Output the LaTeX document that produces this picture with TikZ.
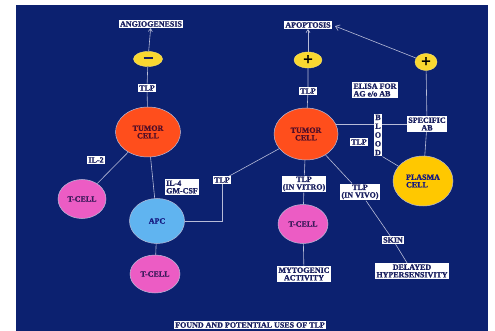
\documentclass[tikz,border=0pt]{standalone}
\usepackage{fontspec}
\setmainfont{Liberation Serif}[BoldFeatures={FakeBold=1.2}]
\usetikzlibrary{shapes.geometric,arrows.meta,backgrounds}
\definecolor{navy}{RGB}{12,33,112}
\definecolor{lbltext}{RGB}{26,32,96}
\definecolor{tumorred}{RGB}{255,78,28}
\definecolor{tpink}{RGB}{236,92,196}
\definecolor{apcblue}{RGB}{96,180,240}
\definecolor{plasmay}{RGB}{255,200,0}
\definecolor{signy}{RGB}{250,216,48}
\definecolor{wire}{RGB}{184,188,216}
\newcommand\lblfont{\fontsize{8}{7.6}\selectfont\bfseries}
\begin{document}
\begin{tikzpicture}[x=1pt,y=-1pt,
  lbl/.style={fill=white,text=lbltext,font=\lblfont,inner sep=1.2pt,align=center},
  cell/.style={ellipse,draw=wire,line width=0.5pt,inner sep=0pt,font=\lblfont,align=center},
  sign/.style={ellipse,fill=signy,draw=signy!70!white,inner sep=0pt,text=black},
  link/.style={draw=wire,line width=0.6pt}]
\useasboundingbox (0,0) rectangle (495,331);
\node[lbl] (angio) at (151,24) {ANGIOGENESIS};
\node[sign,minimum width=29pt,minimum height=15pt] (minus) at (148,59) {\color{lbltext}\rule[2pt]{9pt}{2pt}};
\node[lbl] (tlpA) at (147,88) {TLP};
\node[cell,fill=tumorred,text=lbltext!60!red!70!black,minimum width=65pt,minimum height=50pt] (tumorA) at (148,132) {TUMOR\\CELL};
\node[lbl] (il2) at (96,160) {IL-2};
\node[cell,fill=tpink,text=lbltext!80!purple,minimum width=48pt,minimum height=39pt] (tcellA) at (82,199) {T-CELL};
\node[lbl,align=left] (il4) at (182,187) {IL-4\\GM-CSF};
\node[cell,fill=apcblue,text=lbltext!80!blue,minimum width=55pt,minimum height=45pt] (apc) at (157,221) {APC};
\node[cell,fill=tpink,text=lbltext!80!purple,minimum width=50pt,minimum height=38pt] (tcellB) at (155,274) {T-CELL};
\node[lbl] (tlpB) at (222,180) {TLP};
\node[lbl] (apop) at (308,25) {APOPTOSIS};
\node[sign,minimum width=28pt,minimum height=16pt,font=\fontsize{17}{17}\selectfont\bfseries] (plusA) at (308,60) {+};
\node[sign,minimum width=22pt,minimum height=17pt,font=\fontsize{17}{17}\selectfont\bfseries] (plusB) at (426,62) {+};
\node[lbl,align=left] (elisa) at (375,90) {ELISA FOR\\AG e/o AB};
\node[lbl] (tlpC) at (308,91) {TLP};
\node[cell,fill=tumorred,text=lbltext!60!red!70!black,minimum width=64pt,minimum height=52pt] (tumorB) at (306,134) {TUMOR\\CELL};
\node[lbl,font=\fontsize{8}{8.8}\selectfont\bfseries] (blood) at (378,135) {B\\L\\O\\O\\D};
\node[lbl] (specab) at (427,124) {SPECIFIC\\AB};
\node[lbl] (tlpD) at (359,142) {TLP};
\node[cell,fill=plasmay,text=lbltext!80!blue,minimum width=60pt,minimum height=50pt,align=left] (plasma) at (423,181) {PLASMA\\CELL};
\node[lbl] (vitro) at (304,184) {TLP\\(IN VITRO)};
\node[lbl] (vivo) at (360,192) {TLP\\(IN VIVO)};
\node[cell,fill=tpink,text=lbltext!80!purple,minimum width=50pt,minimum height=39pt] (tcellC) at (303,224) {T-CELL};
\node[lbl] (myto) at (304,274) {MYTOGENIC\\ACTIVITY};
\node[lbl] (skin) at (393,240) {SKIN};
\node[lbl] (delayed) at (412,271) {DELAYED\\HYPERSENSIVITY};
\node[lbl] (title) at (250,325) {FOUND AND POTENTIAL USES OF TLP};
\begin{scope}[on background layer]
\fill[navy] (16,5) rectangle (488,331);
\draw[link] (tumorA) -- (tlpA) -- (minus);
\draw[link,-{Straight Barb[length=3pt,width=4pt]}] (minus) -- (angio);
\draw[link] (tumorA) -- (tcellA);
\draw[link] (tumorA) -- (apc) -- (tcellB);
\draw[link] (apc.east) -| (tlpB);
\draw[link] (tlpB) -- (tumorB);
\draw[link] (tumorB) -- (tlpC) -- (plusA);
\draw[link,-{Straight Barb[length=3pt,width=4pt]}] (plusA) -- (apop);
\draw[link,-{Straight Barb[length=4pt,width=6pt]}] (plusB) -- ([xshift=3pt,yshift=3pt]apop.south east);
\draw[link] (plusB) -- (specab) -- (plasma);
\draw[link] (specab.west) -- (specab.west -| tumorB);
\draw[link] (blood.south east) -- (plasma);
\draw[link] (tumorB) -- (vitro) -- (tcellC) -- (myto);
\draw[link] (tumorB) -- (vivo) -- (skin) -- (delayed);
\end{scope}
\end{tikzpicture}
\end{document}
